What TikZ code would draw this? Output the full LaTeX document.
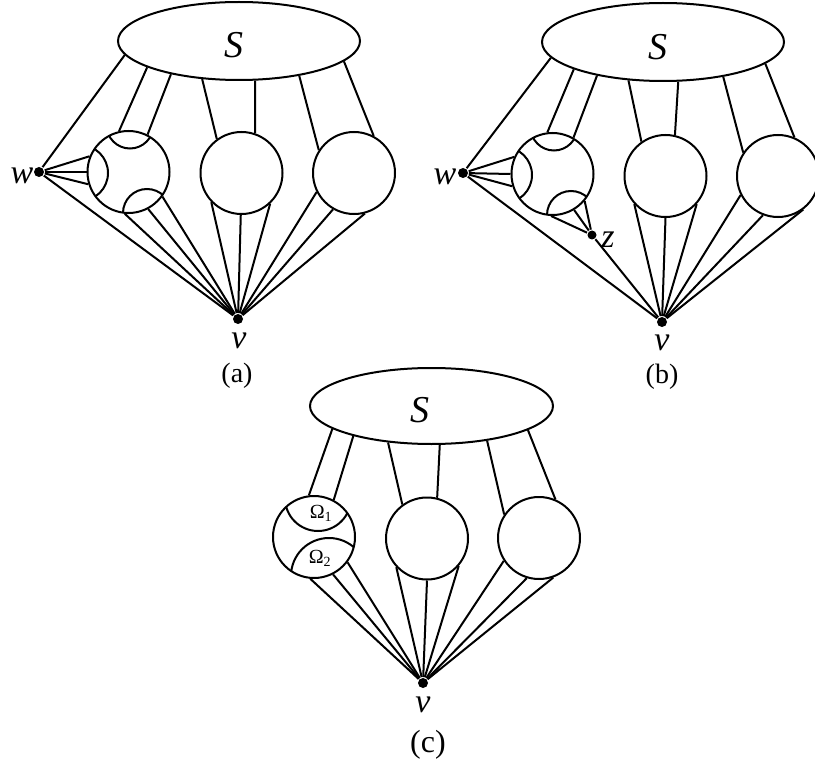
\documentclass[tikz,border=0pt]{standalone}
\usepackage{fontspec}
\setmainfont{Liberation Serif}
\usetikzlibrary{shapes.geometric}
\tikzset{
  ball/.style={circle, draw, minimum size=82pt, inner sep=0pt},
  blob/.style={ellipse, draw, minimum width=242pt, minimum height=78pt, inner sep=0pt},
  dot/.style={circle, fill, minimum size=10pt, inner sep=0pt},
  lab/.style={font=\fontsize{34}{40}\selectfont\itshape, inner sep=0pt},
  big/.style={font=\fontsize{38}{44}\selectfont\itshape, inner sep=0pt},
  captxt/.style={font=\fontsize{28}{34}\selectfont, inner sep=0pt},
  captxtc/.style={font=\fontsize{32}{38}\selectfont, inner sep=0pt},
  om/.style={font=\fontsize{20}{24}\selectfont, inner sep=0pt}
}
\begin{document}
\begin{tikzpicture}[x=1pt,y=1pt,line width=2pt]
\useasboundingbox (0,0) rectangle (815,-765);

% ---------------- panel (a) ----------------
\node[blob] (aS) at (239,-41) {};
\node[big] (aSl) at (234,-45) {S};
\node[ball] (a1) at (128.5,-172) {};
\node[ball] (a2) at (241.5,-173) {};
\node[ball] (a3) at (354,-173) {};
\node[dot] (aw) at (39,-172) {};
\node[dot] (av) at (238,-319) {};
\node[lab] (awl) at (22,-176) {w};
\node[lab] (avl) at (239,-341) {v};
\node[captxt] (acap) at (237,-376) {(a)};
\begin{scope}
  \clip (a1.center) circle (41pt);
  \draw (a1.center) ++(1.5pt,47pt) circle (23.5pt);
  \draw (a1.center) ++(-48.5pt,-1pt) circle (28pt);
  \draw (a1.center) ++(18.5pt,-41pt) circle (24pt);
\end{scope}
\draw (aS.187.6) -- (aw);
\draw (aS.196.5) -- (a1.103.4);
\draw (aS.206.2) -- (a1.63.4);
\draw (aS.226.6) -- (a2.126);
\draw (aS.292.3) -- (a2.71);
\draw (aS.330.9) -- (a3.147.4);
\draw (aS.349.2) -- (a3.62.2);
\draw (aw) -- (a1.158);
\draw (aw) -- (a1.180);
\draw (aw) -- (a1.197);
\draw (aw) -- (av);
\draw (a1.265) -- (av);
\draw (a1.298.4) -- (av);
\draw (a1.324) -- (av);
\draw (a2.224.5) -- (av);
\draw (a2.269) -- (av);
\draw (a2.313.6) -- (av);
\draw (a3.207.2) -- (av);
\draw (a3.240.4) -- (av);
\draw (a3.285.4) -- (av);

% ---------------- panel (b) ----------------
\node[blob] (bS) at (663,-42) {};
\node[big] (bSl) at (658,-47) {S};
\node[ball] (b1) at (552.5,-174) {};
\node[ball] (b2) at (665.5,-176) {};
\node[ball] (b3) at (778,-176) {};
\node[dot] (bw) at (463,-173) {};
\node[dot] (bv) at (662,-322) {};
\node[dot, minimum size=9pt] (bz) at (592,-235) {};
\node[lab] (bwl) at (445,-177) {w};
\node[lab] (bvl) at (662,-343) {v};
\node[lab] (bzl) at (608,-240) {z};
\node[captxt] (bcap) at (662,-377) {(b)};
\begin{scope}
  \clip (b1.center) circle (41pt);
  \draw (b1.center) ++(1.5pt,47pt) circle (23.5pt);
  \draw (b1.center) ++(-48.5pt,-1pt) circle (28pt);
  \draw (b1.center) ++(18.5pt,-41pt) circle (24pt);
\end{scope}
\draw (bS.188.1) -- (bw);
\draw (bS.197.1) -- (b1.97.6);
\draw (bS.207.2) -- (b1.60.2);
\draw (bS.228.1) -- (b2.125.3);
\draw (bS.291.3) -- (b2.77.7);
\draw (bS.330.3) -- (b3.146.3);
\draw (bS.348.1) -- (b3.67.7);
\draw (bw) -- (b1.156.9);
\draw (bw) -- (b1.180);
\draw (bw) -- (b1.197.8);
\draw (bw) -- (bv);
\draw (b1.268.8) -- (bz);
\draw (b1.301.8) -- (bz);
\draw (b1.320.5) -- (bz);
\draw (bz) -- (bv);
\draw (b2.222.4) -- (bv);
\draw (b2.270) -- (bv);
\draw (b2.318.9) -- (bv);
\draw (b3.207.7) -- (bv);
\draw (b3.249) -- (bv);
\draw (b3.307) -- (bv);

% ---------------- panel (c) ----------------
\node[blob, minimum width=243pt, minimum height=76pt] (cS) at (431.5,-406) {};
\node[big] (cSl) at (420,-410) {S};
\node[ball] (c1) at (314,-537) {};
\node[ball] (c2) at (427,-538.5) {};
\node[ball] (c3) at (539,-538) {};
\node[dot] (cv) at (423,-683) {};
\node[lab] (cvl) at (423,-705) {v};
\node[captxtc] (ccap) at (428,-745) {(c)};
\begin{scope}
  \clip (c1.center) circle (41pt);
  \draw (c1.center) ++(4pt,39pt) circle (33pt);
  \draw (c1.center) ++(15pt,-39pt) circle (38pt);
\end{scope}
\node[om] (o1) at (321,-513) {Ω\textsubscript{1}};
\node[om] (o2) at (320,-558) {Ω\textsubscript{2}};
\draw (cS.193.7) -- (c1.97.8);
\draw (cS.201.9) -- (c1.62.2);
\draw (cS.220.9) -- (c2.126.7);
\draw (cS.282.6) -- (c2.76.1);
\draw (cS.328.5) -- (c3.146.7);
\draw (cS.346.6) -- (c3.67.2);
\draw (c1.265) -- (cv);
\draw (c1.297.8) -- (cv);
\draw (c1.323) -- (cv);
\draw (c2.223.5) -- (cv);
\draw (c2.270) -- (cv);
\draw (c2.319.5) -- (cv);
\draw (c3.213) -- (cv);
\draw (c3.253.3) -- (cv);
\draw (c3.290.7) -- (cv);
\end{tikzpicture}
\end{document}
